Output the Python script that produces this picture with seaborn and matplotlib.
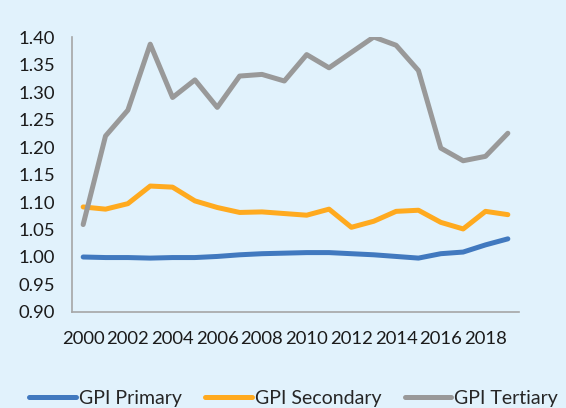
import pandas as pd
import seaborn as sns
import matplotlib.pyplot as plt

years = list(range(2000, 2020))
gpi_primary = [1.000, 0.999, 0.999, 0.998, 0.999, 0.999, 1.001, 1.004, 1.006, 1.007,
               1.008, 1.008, 1.006, 1.004, 1.001, 0.998, 1.006, 1.009, 1.022, 1.033]
gpi_secondary = [1.091, 1.087, 1.097, 1.129, 1.127, 1.102, 1.090, 1.081, 1.082, 1.079,
                 1.076, 1.087, 1.054, 1.065, 1.083, 1.085, 1.063, 1.051, 1.083, 1.077]
gpi_tertiary = [1.059, 1.220, 1.267, 1.387, 1.290, 1.322, 1.272, 1.329, 1.332, 1.320,
                1.368, 1.344, 1.372, 1.400, 1.385, 1.339, 1.198, 1.175, 1.183, 1.225]
series = ['GPI Primary', 'GPI Secondary', 'GPI Tertiary']
colors = ['#4179BF', '#FFAA1F', '#999999']

data = pd.DataFrame({
    'Year': years * 3,
    'Value': gpi_primary + gpi_secondary + gpi_tertiary,
    'Series': [s for s in series for _ in years],
})

bg = '#E1F2FC'
sns.set_theme(style="white")
plt.rcParams['font.family'] = ['Lato', 'DejaVu Sans']

fig = plt.figure(figsize=(5.66, 4.08), dpi=100, facecolor=bg)
ax = fig.add_axes([0.1272, 0.2353, 0.7898, 0.674])
ax.set_facecolor(bg)

sns.lineplot(data=data, x='Year', y='Value', hue='Series', palette=colors,
             linewidth=3.6, ax=ax, legend=True)
for line in ax.lines:
    line.set_solid_capstyle('round')

ax.set_xlim(1999.5, 2019.5)
ax.set_ylim(0.90, 1.40)
ax.set_xticks(range(2000, 2019, 2))
ax.set_yticks([0.90 + 0.05 * i for i in range(11)])
ax.set_yticklabels([f'{0.90 + 0.05 * i:.2f}' for i in range(11)])
ax.tick_params(axis='both', length=0, labelsize=13.3, colors='#1a1a1a')
ax.tick_params(axis='y', pad=12)
ax.tick_params(axis='x', pad=14)
ax.set_xlabel('')
ax.set_ylabel('')

for side in ['top', 'right']:
    ax.spines[side].set_visible(False)
for side in ['left', 'bottom']:
    ax.spines[side].set_color('#A6A6A6')
    ax.spines[side].set_linewidth(1.2)

handles, labels = ax.get_legend_handles_labels()
ax.get_legend().remove()
leg = fig.legend(handles, labels, loc='center', bbox_to_anchor=(0.519, 0.0245),
                 ncol=3, frameon=False, fontsize=14, handlelength=2.4,
                 handletextpad=0.15, columnspacing=1.2, borderpad=0)
for h in leg.get_lines():
    h.set_linewidth(3.6)

fig.savefig('out.png', dpi=100, facecolor=bg)
